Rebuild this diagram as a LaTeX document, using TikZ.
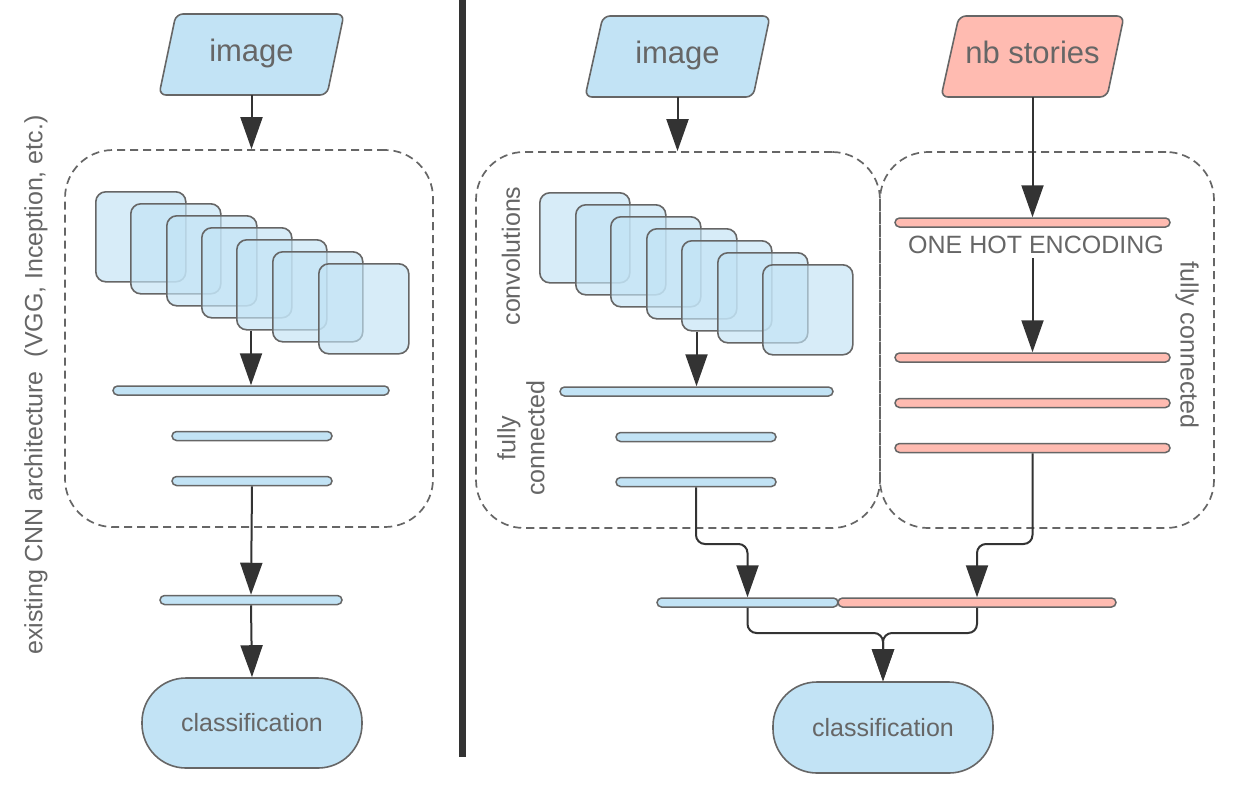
\documentclass[tikz,border=0pt]{standalone}
\usepackage{fontspec}
\setmainfont{Liberation Sans}
\usetikzlibrary{arrows.meta}
\definecolor{bfill}{HTML}{C2E3F5}
\definecolor{pfill}{HTML}{FFBBB1}
\definecolor{edgec}{HTML}{666666}
\definecolor{arrc}{HTML}{333333}
\definecolor{txtc}{HTML}{666666}
\begin{document}
\begin{tikzpicture}[x=1pt,y=-1pt,
 para/.style={draw=edgec, line width=1.6pt, rounded corners=7pt, line join=round},
 lbl/.style={text=txtc, inner sep=0pt},
 bigtxt/.style={font=\fontsize{31}{35}\selectfont},
 smalltxt/.style={font=\fontsize{25}{29}\selectfont},
 arr/.style={draw=arrc, line width=2pt, -{Triangle[length=32pt,width=22pt]}},
 dbox/.style={draw=edgec, line width=1.7pt, dash pattern=on 8pt off 5pt, rounded corners=48pt, inner sep=0pt},
 barbox/.style={draw=edgec, line width=1.5pt, rounded corners=4.5pt, minimum height=9pt, inner sep=0pt},
 bbar/.style={barbox, fill=bfill},
 pbar/.style={barbox, fill=pfill},
 sqbox/.style={draw=edgec, line width=1.6pt, fill=bfill, fill opacity=0.65, draw opacity=1, rounded corners=10pt, minimum width=90pt, minimum height=90pt, inner sep=0pt, anchor=north west},
 term/.style={draw=edgec, line width=1.6pt, fill=bfill, rounded corners=44pt, minimum width=220pt, minimum height=90pt, text=txtc, font=\fontsize{25}{29}\selectfont},
 hold/.style={inner sep=0pt, minimum width=150pt, minimum height=81pt}
]
\useasboundingbox[fill=white] (0,0) rectangle (1236,788);

% ---------------- left panel ----------------
\draw[para, fill=bfill] (159,95) -- (327,95) -- (344,14) -- (176,14) -- cycle;
\node[hold] (img1) at (251.5,54.5) {};
\node[lbl, bigtxt, anchor=base] (img1t) at (251.5,61) {image};

\node[dbox, minimum width=368pt, minimum height=377pt] (box1) at (249,338.5) {};

\node[sqbox] (s1) at (95,191) {};
\node[sqbox] (s2) at (130,203) {};
\node[sqbox] (s3) at (166,215) {};
\node[sqbox] (s4) at (201,227) {};
\node[sqbox] (s5) at (236,239) {};
\node[sqbox] (s6) at (272,251) {};
\node[sqbox] (s7) at (318,263) {};

\node[bbar, minimum width=276pt] (b1) at (251,390.5) {};
\node[bbar, minimum width=160pt] (b2) at (252,436) {};
\node[bbar, minimum width=160pt] (b3) at (252,481) {};
\node[bbar, minimum width=182pt] (b4) at (251,600) {};

\node[term] (c1) at (252,723) {classification};

\node[lbl, smalltxt, rotate=90] (cnn) at (36,385) {existing CNN architecture\ \ (VGG, Inception, etc.)};

\draw[arr] (img1.south) -- (img1.south |- box1.north);
\draw[arr] (s5.south -| b1.north) -- (b1.north);
\draw[arr] (b3.south) -- (b4.north);
\draw[arr] (b4.south) -- (c1.north);

% separator
\draw[arrc, line width=7pt] (462,0) -- (462,757);

% ---------------- right panel ----------------
\draw[para, fill=bfill] (585,97) -- (753,97) -- (770,16) -- (603,16) -- cycle;
\node[hold] (img2) at (677.5,56.5) {};
\node[lbl, bigtxt, anchor=base] (img2t) at (677.5,63) {image};

\draw[para, fill=pfill] (941,97) -- (1107,97) -- (1124,16) -- (959,16) -- cycle;
\node[hold] (nb) at (1032.5,56.5) {};
\node[lbl, bigtxt, anchor=base] (nbt) at (1032.5,63) {nb stories};

\node[dbox, minimum width=404pt, minimum height=376pt] (box2) at (678,340) {};
\node[dbox, minimum width=334pt, minimum height=376pt] (box3) at (1047,340) {};

\node[sqbox] (r1) at (539,192) {};
\node[sqbox] (r2) at (575,204) {};
\node[sqbox] (r3) at (610,216) {};
\node[sqbox] (r4) at (646,228) {};
\node[sqbox] (r5) at (681,240) {};
\node[sqbox] (r6) at (717,252) {};
\node[sqbox] (r7) at (762,264) {};

\node[bbar, minimum width=273pt] (rb1) at (696.5,391.5) {};
\node[bbar, minimum width=160pt] (rb2) at (696,437) {};
\node[bbar, minimum width=160pt] (rb3) at (696,482) {};

\node[pbar, minimum width=275pt] (p1) at (1032.5,222.5) {};
\node[pbar, minimum width=275pt] (p2) at (1032.5,357.5) {};
\node[pbar, minimum width=275pt] (p3) at (1032.5,403) {};
\node[pbar, minimum width=275pt] (p4) at (1032.5,448) {};

\node[lbl, smalltxt, inner sep=4pt] (ohe) at (1036,245) {ONE HOT ENCODING};

\node[lbl, smalltxt, rotate=90] (conv) at (511,256) {convolutions};
\node[lbl, rotate=90, align=center, font=\fontsize{25}{29}\selectfont] (fcl) at (521,438) {fully\\connected};
\node[lbl, smalltxt, rotate=-90] (fcr) at (1187,345) {fully connected};

\node[bbar, minimum width=181pt] (cbl) at (747.5,602.5) {};
\node[pbar, minimum width=278pt] (cbr) at (977,602.5) {};

\node[term, minimum height=91pt] (c2) at (883,727.5) {classification};

\draw[arr] (img2.south) -- (img2.south |- box2.north);
\draw[arr] (nb.south) -- (p1.north);
\draw[arr] (ohe.south -| p2.north) -- (p2.north);
\draw[arr] (r5.south -| rb1.north) -- (rb1.north);

\coordinate (jl) at (696,544);
\coordinate (jr) at (1032.5,544);
\draw[arr, rounded corners=9pt] (rb3.south) -- (jl) -| (cbl.north);
\draw[arr, rounded corners=9pt] (p4.south) -- (jr) -| (cbr.north);

\coordinate (ml) at (747.5,633);
\coordinate (mr) at (977,633);
\draw[arr, rounded corners=9pt] (cbl.south) -- (ml) -| (c2.north);
\draw[arr, rounded corners=9pt] (cbr.south) -- (mr) -| (c2.north);
\end{tikzpicture}
\end{document}
